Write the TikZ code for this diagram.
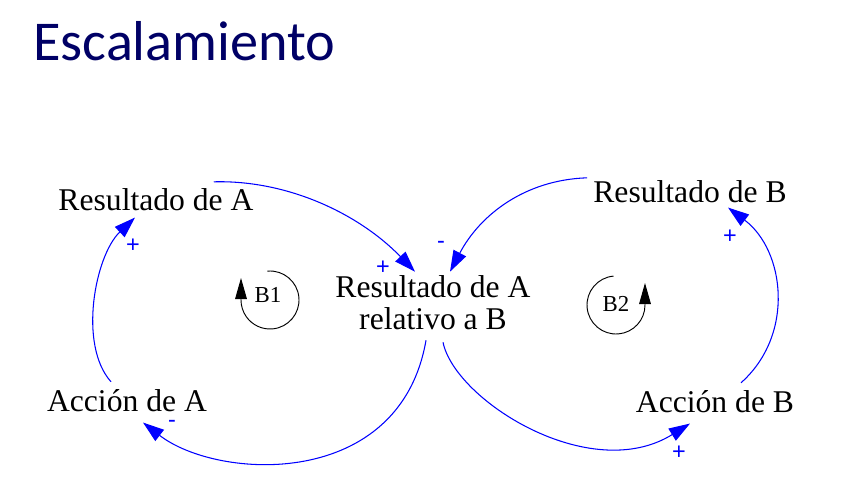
\documentclass[tikz,border=0pt]{standalone}
\usepackage{fontspec}
\setmainfont{Liberation Serif}
\setsansfont{Liberation Sans}
\newfontfamily\esctitlefont{Carlito}
\usetikzlibrary{arrows.meta}
\definecolor{escNavy}{HTML}{000066}
\definecolor{escBlue}{HTML}{0000FF}
\tikzset{
  esc title/.style={font=\esctitlefont\fontsize{48}{50}\selectfont, text=escNavy, anchor=base west, inner sep=0pt},
  esc var/.style={font=\fontsize{27}{27.2}\selectfont, inner sep=0pt, align=center},
  esc link/.style={draw=escBlue, line width=0.9pt, -{Triangle[length=18pt, width=12pt]}},
  esc sign/.style={font=\sffamily\fontsize{20}{20}\selectfont, text=escBlue, inner sep=0pt},
  esc loop/.style={draw=black, line width=0.8pt, -{Triangle[length=18pt, width=10pt]}},
  esc loop label/.style={font=\fontsize{19.5}{20}\selectfont, inner sep=0pt},
}

\begin{document}
\begin{tikzpicture}[x=0.03cm, y=0.03cm]
  \useasboundingbox (0,0) rectangle (850,496);

  % Title
  \node[esc title] (title) at (33,435) {Escalamiento};

  % Variables
  \node[esc var, anchor=base] (resA) at (156,286) {Resultado de A};
  \node[esc var] (rel) at (433,193) {Resultado de A\\relativo a B};
  \node[esc var, anchor=base] (resB) at (690,294) {Resultado de B};
  \node[esc var, anchor=base] (accA) at (127,85) {Acción de A};
  \node[esc var, anchor=base] (accB) at (715,84) {Acción de B};

  % Links
  \draw[esc link] ([shift={(-40,6)}]resA.north east)
    .. controls +(75,2) and +(-55,57) .. ([shift={(-18,4)}]rel.north);
  \draw[esc link] ([shift={(-6,2)}]resB.north west)
    .. controls +(-62,-2) and +(30,57) .. ([shift={(17,4)}]rel.north);
  \draw[esc link] ([shift={(-7,-10)}]rel.south)
    .. controls +(-26,-150) and +(75,-58) .. ([shift={(16,-11)}]accA.south);
  \draw[esc link] ([shift={(10,-12)}]rel.south)
    .. controls +(12,-58) and +(-100,-62) .. ([shift={(-25,-11)}]accB.south);
  \draw[esc link] ([shift={(-16,7)}]accA.north)
    .. controls +(-33,37) and +(-40,-38) .. ([shift={(-21,-7)}]resA.south);
  \draw[esc link] ([shift={(26,7)}]accB.north)
    .. controls +(54,48) and +(57,-43) .. ([shift={(38,-5)}]resB.south);

  % Polarities
  \node[esc sign] (sgn1) at (383,228) {+};
  \node[esc sign] (sgn2) at (441,251) {-};
  \node[esc sign] (sgn3) at (172,72) {-};
  \node[esc sign] (sgn4) at (679,43) {+};
  \node[esc sign] (sgn5) at (133,250) {+};
  \node[esc sign] (sgn6) at (730,259) {+};

  % Loop markers
  \coordinate (b1c) at (270,196);
  \draw[esc loop] (b1c) ++(95:29) arc[start angle=95, end angle=-180, radius=29] -- ++(0,22);
  \node[esc loop label] (b1) at (268,201) {B1};
  \coordinate (b2c) at (616,191);
  \draw[esc loop] (b2c) ++(95:29) arc[start angle=95, end angle=360, radius=29] -- ++(0,22);
  \node[esc loop label] (b2) at (616,192) {B2};
\end{tikzpicture}
\end{document}
